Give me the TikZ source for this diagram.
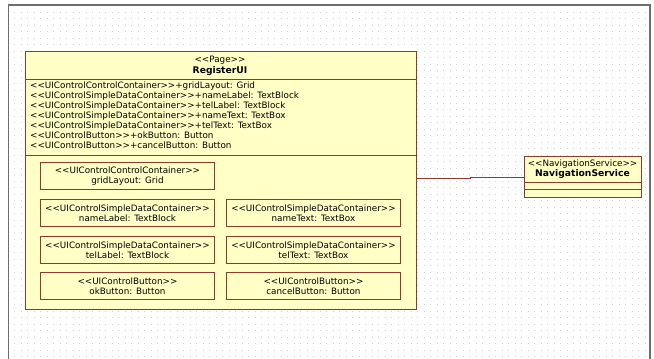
\documentclass[tikz,border=0pt]{standalone}
\usepackage{fontspec}
\setmainfont{DejaVu Sans}
\usetikzlibrary{positioning}
\definecolor{umlfill}{HTML}{FFFFC6}
\definecolor{umlline}{HTML}{8E3B2E}
\definecolor{framegray}{HTML}{6E6E6E}
\newcommand{\stereo}[1]{<{}<#1>{}>}

\begin{document}
\begin{tikzpicture}[x=1pt,y=-1pt,
  classbox/.style={draw=umlline,fill=umlfill,line width=0.9pt,inner sep=0pt,anchor=north west},
  partbox/.style={classbox,minimum width=174pt,minimum height=27pt,align=center,
    font=\fontsize{8.8}{10}\selectfont},
  umltext/.style={inner sep=0pt,font=\fontsize{8.8}{10}\selectfont},
  umlname/.style={umltext,font=\fontsize{9.2}{10}\selectfont\bfseries}
]
  \useasboundingbox (0,0) rectangle (654,359);
  \fill[white] (0,0) rectangle (654,359);
  % dotted grid of the canvas
  \foreach \y in {12,18.5,...,358}
    \draw[gray!35,line width=0.7pt,dash pattern=on 0.7pt off 5.8pt] (14,\y) -- (648,\y);
  \draw[framegray,line width=1.4pt] (8.5,359) -- (8.5,5) -- (650,5) -- (650,359);

  % page class
  \node[classbox,minimum width=391pt,minimum height=258pt] (registerUI) at (25,51) {};
  \node[umltext] (pageStereo) at (220,60) {\stereo{Page}};
  \node[umlname] (pageName) at (220,70.5) {RegisterUI};
  \draw[umlline,line width=0.9pt] (25,79) -- (416,79);
  \node[umltext,anchor=north west,align=left] (attrList) at (30,82) {%
    \stereo{UIControlControlContainer}+gridLayout: Grid\\
    \stereo{UIControlSimpleDataContainer}+nameLabel: TextBlock\\
    \stereo{UIControlSimpleDataContainer}+telLabel: TextBlock\\
    \stereo{UIControlSimpleDataContainer}+nameText: TextBox\\
    \stereo{UIControlSimpleDataContainer}+telText: TextBox\\
    \stereo{UIControlButton}+okButton: Button\\
    \stereo{UIControlButton}+cancelButton: Button};
  \draw[umlline,line width=0.9pt] (25,155.5) -- (416,155.5);

  % parts
  \node[partbox] (gridLayout) at (40,162) {\stereo{UIControlControlContainer}\\gridLayout: Grid};
  \node[partbox] (nameLabel) at (40,199) {\stereo{UIControlSimpleDataContainer}\\nameLabel: TextBlock};
  \node[partbox] (nameText) at (226,199) {\stereo{UIControlSimpleDataContainer}\\nameText: TextBox};
  \node[partbox] (telLabel) at (40,236) {\stereo{UIControlSimpleDataContainer}\\telLabel: TextBlock};
  \node[partbox] (telText) at (226,236) {\stereo{UIControlSimpleDataContainer}\\telText: TextBox};
  \node[partbox] (okButton) at (40,272) {\stereo{UIControlButton}\\okButton: Button};
  \node[partbox] (cancelButton) at (226,272) {\stereo{UIControlButton}\\cancelButton: Button};

  % service class
  \node[classbox,minimum width=117pt,minimum height=41.5pt] (navService) at (524,155.7) {};
  \node[umltext] (navStereo) at (582.5,164) {\stereo{NavigationService}};
  \node[umlname] (navName) at (582.5,174) {NavigationService};
  \draw[umlline,line width=0.9pt] (524,182.5) -- (641,182.5) (524,189.7) -- (641,189.7);

  \coordinate (linkStart) at (416.5,178.5);
  \coordinate (linkBendA) at (470,178.5);
  \coordinate (linkBendB) at (470,177.5);
  \draw[umlline,line width=1pt] (linkStart) -- (linkBendA) -- (linkBendB) -- (navService.west |- linkBendB);
\end{tikzpicture}
\end{document}
